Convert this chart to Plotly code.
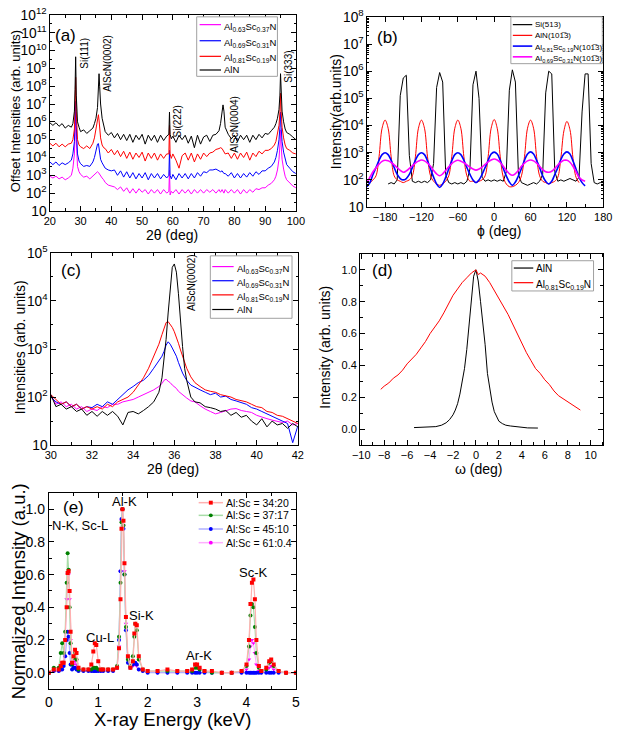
import plotly.graph_objects as go

W, H = 622, 737
FONT = "Liberation Sans, Arial, sans-serif"

# ---------------- (a) 2theta-omega scans, offset, log10 of intensity ----------------
A_TTH = [20, 21, 22, 23, 24, 25, 26, 27, 27.5, 28, 28.2, 28.4, 28.6, 28.8, 29, 29.5,
         30, 31, 32, 33, 34,
         34.5, 35, 35.5, 35.8, 36, 36.2, 36.5, 37, 37.5,
         38, 39, 40, 41, 42, 43, 44, 45, 46, 47, 48, 49, 50, 51, 52, 53, 54, 55, 56, 57, 58,
         58.7, 58.9, 59.1, 59.5,
         60, 61, 62, 63, 64, 65, 66, 67, 68, 69, 70, 71, 72, 73, 74, 75,
         75.5, 76, 76.3, 76.6, 77,
         78, 79, 80, 81, 82, 83, 84, 85, 86, 87, 88, 89, 90, 91, 92, 93,
         93.5, 94, 94.5, 94.8, 95, 95.2, 95.5, 96, 96.5, 97,
         98, 99, 100]
A_ALN_LOG = [5.95, 5.8, 5.95, 5.75, 5.9, 5.65, 5.8, 5.7, 5.9, 6.6, 7.8, 9.65, 7.5, 6.4, 6.0, 5.7,
             5.45, 5.55, 5.35, 5.5, 5.65,
             5.9, 6.2, 6.8, 7.8, 8.7, 8.0, 7.0, 6.2, 5.8,
             5.45, 5.25, 5.4, 5.1, 5.35, 5.0, 5.3, 4.95, 5.3, 4.85, 5.25, 5.0, 5.3, 4.75, 5.25, 4.95, 5.25, 4.85, 5.25, 4.95, 5.2,
             5.3, 6.55, 5.3, 5.05,
             5.2, 4.85, 5.25, 5.0, 5.25, 4.8, 5.2, 4.55, 5.25, 4.75, 5.15, 5.25, 4.9, 5.25, 5.3, 5.5,
             5.9, 6.8, 6.95, 6.6, 5.7,
             5.3, 5.05, 5.25, 4.9, 5.25, 5.0, 5.25, 4.85, 5.25, 5.0, 5.3, 5.1, 5.35, 5.3, 5.5, 5.7,
             5.9, 6.2, 6.7, 7.5, 8.7, 7.5, 6.6, 6.0, 5.6, 5.4,
             5.3, 5.15, 5.0]
A_SC19_LOG = [4.8, 4.65, 4.8, 4.6, 4.75, 4.6, 4.75, 4.8, 5.0, 5.6, 6.8, 8.5, 6.6, 5.5, 5.0, 4.7,
              4.6, 4.5, 4.65, 4.5, 4.8,
              5.1, 5.6, 6.3, 6.4, 6.1, 5.6, 5.1, 4.7, 4.55,
              4.5, 4.25, 4.45, 4.15, 4.4, 4.05, 4.35, 3.95, 4.3, 3.9, 4.25, 4.0, 4.3, 3.8, 4.25, 3.95, 4.25, 3.85, 4.2, 3.95, 4.2,
              4.2, 5.8, 4.2, 3.95,
              4.2, 3.85, 3.4, 4.1, 4.25, 3.85, 4.25, 3.75, 4.2, 3.9, 4.25, 4.05, 4.25, 4.3, 4.45, 4.5,
              4.55, 4.5, 4.4, 4.3, 4.2,
              4.25, 3.95, 4.25, 3.9, 4.25, 4.0, 4.3, 3.85, 4.25, 4.05, 4.35, 4.2, 4.4, 4.4, 4.5, 4.7,
              4.9, 5.3, 5.8, 6.5, 7.6, 6.6, 5.7, 5.1, 4.7, 4.5,
              4.4, 4.25, 4.2]
A_SC31_LOG = [3.75, 3.6, 3.75, 3.55, 3.7, 3.6, 3.7, 3.85, 4.2, 4.9, 6.0, 7.15, 5.8, 4.8, 4.2, 3.8,
              3.65, 3.5, 3.55, 3.5, 3.75,
              4.0, 4.4, 4.75, 4.78, 4.5, 4.2, 3.9, 3.7, 3.55,
              3.4, 3.3, 3.25, 3.3, 3.0, 3.25, 2.9, 3.2, 2.85, 3.15, 2.8, 3.1, 2.85, 3.15, 2.75, 3.1, 2.85, 3.1, 2.8, 3.05, 2.85,
              3.0, 4.4, 3.0, 2.8,
              3.05, 2.75, 3.1, 2.85, 3.1, 2.8, 3.1, 2.85, 3.15, 2.95, 3.2, 3.15, 3.3, 3.3, 3.35, 3.25,
              3.2, 3.25, 3.15, 3.1, 3.1,
              2.95, 3.15, 2.85, 3.1, 2.85, 3.1, 2.9, 3.15, 2.95, 3.2, 3.05, 3.25, 3.25, 3.4, 3.5, 3.75,
              4.0, 4.4, 5.0, 5.7, 6.55, 5.7, 4.9, 4.3, 3.9, 3.6,
              3.4, 3.2, 3.1]
A_SC37_LOG = [2.95, 2.85, 2.95, 2.8, 2.9, 2.75, 2.85, 3.0, 3.4, 4.2, 5.2, 6.55, 5.0, 4.0, 3.5, 3.2,
              3.05, 2.9, 2.95, 2.8, 2.95,
              3.05, 3.15, 3.2, 3.16, 3.1, 3.05, 2.95, 2.85, 2.75,
              2.6, 2.45, 2.4, 2.35, 2.2, 2.35, 2.1, 2.3, 2.0, 2.25, 2.0, 2.25, 2.05, 2.2, 1.95, 2.2, 2.0, 2.2, 1.95, 2.2, 2.0,
              2.1, 3.3, 1.9, 2.1,
              2.0, 2.2, 1.95, 2.2, 2.0, 2.2, 1.95, 2.2, 2.0, 2.2, 2.0, 2.2, 2.05, 2.2, 2.0, 2.2,
              2.05, 2.2, 2.05, 2.0, 2.2,
              2.0, 2.2, 2.0, 2.2, 1.95, 2.2, 2.0, 2.2, 2.05, 2.25, 2.2, 2.3, 2.3, 2.45, 2.55, 2.75,
              2.95, 3.3, 3.9, 4.7, 5.55, 4.7, 3.9, 3.35, 2.95, 2.75,
              2.55, 2.4, 2.3]

# ---------------- (b) phi scans, log10 of intensity ----------------
B_PHI = [-210, -205, -200, -195, -190, -185, -180, -175, -170, -165, -160, -155, -150, -145, -140,
         -135, -130, -125, -120, -115, -110, -105, -100, -95, -90, -85, -80, -75, -70, -65, -60,
         -55, -50, -45, -40, -35, -30, -25, -20, -15, -10, -5, 0, 5, 10, 15, 20, 25, 30, 35, 40,
         45, 50, 55, 60, 65, 70, 75, 80, 85, 90, 95, 100, 105, 110, 115, 120, 125, 130, 135, 140,
         145, 150, 155, 160, 165, 170, 175, 180]
B_SI_LOG = [None, None, None, None, None, None, None,
            1.85, 1.9, 1.85, 2.0, 5.1, 5.75, 5.85, 2.9,
            1.95, 1.9, 1.95, 1.9, 1.95, 1.9, 2.0, 2.6, 5.4, 5.95, 5.6, 2.2, 1.9, 1.85, 1.9, 1.85,
            1.9, 1.85, 1.95, 2.4, 5.5, 6.0, 5.0, 2.1, 1.95, 2.0, 1.95, 2.0, 1.95, 2.0, 1.95, 2.3, 5.3, 6.05, 5.6, 2.2,
            1.9, 1.85, 1.8, 1.85, 1.9, 1.85, 1.95, 2.2, 5.2, 6.0, 5.9, 2.3, 1.95, 2.0, 1.95, 2.0, 2.05, 2.0, 1.95, 2.1,
            4.5, 5.9, 5.9, 2.6, 1.9, 1.85, 1.9, 1.9]
B_ALN_LOG = [1.95, 1.9, 2.0, 2.15, 2.85, 3.9, 4.2, 3.9, 2.85, 2.15, 2.0, 1.95, 1.9, 1.95, 2.0,
             2.15, 2.85, 3.9, 4.2, 3.9, 2.85, 2.15, 1.95, 1.85, 1.8, 1.85, 1.95, 2.15, 2.85, 3.9, 4.2,
             3.9, 2.85, 2.15, 1.95, 1.95, 1.9, 1.95, 2.0, 2.15, 2.85, 3.9, 4.22, 3.9, 2.85, 2.1, 1.85, 1.75, 1.75, 1.8, 1.9,
             2.15, 2.85, 3.9, 4.2, 3.9, 2.85, 2.15, 1.95, 1.9, 1.85, 1.9, 1.95, 2.1, 2.8, 3.8, 4.15, 3.85, 2.8, 2.1, 1.9,
             None, None, None, None, None, None, None, None]
B_SC19_LOG = [1.75, 1.9, 2.2, 2.45, 2.72, 2.93, 3.0, 2.93, 2.72, 2.45, 2.2, 2.05, 2.0, 2.05, 2.2,
              2.45, 2.72, 2.93, 3.0, 2.93, 2.7, 2.4, 2.1, 1.85, 1.72, 1.85, 2.1, 2.4, 2.7, 2.93, 3.0,
              2.93, 2.72, 2.45, 2.2, 2.0, 1.9, 2.0, 2.2, 2.45, 2.72, 2.95, 3.02, 2.95, 2.72, 2.42, 2.15, 1.92, 1.8, 1.92, 2.15,
              2.42, 2.72, 2.95, 3.03, 2.95, 2.72, 2.45, 2.15, 1.95, 1.85, 1.95, 2.2, 2.45, 2.75, 2.95, 3.03, 2.95, 2.7, 2.4, 2.1,
              1.9, 1.78, None, None, None, None, None, None]
B_SC31_LOG = [1.9, 2.1, 2.3, 2.45, 2.58, 2.68, 2.72, 2.7, 2.64, 2.55, 2.45, 2.35, 2.28, 2.33, 2.42,
              2.52, 2.62, 2.69, 2.73, 2.7, 2.62, 2.5, 2.35, 2.22, 2.15, 2.22, 2.35, 2.48, 2.6, 2.68, 2.72,
              2.69, 2.63, 2.55, 2.47, 2.4, 2.36, 2.4, 2.47, 2.57, 2.66, 2.73, 2.77, 2.73, 2.64, 2.5, 2.35, 2.23, 2.17, 2.23, 2.35,
              2.5, 2.62, 2.7, 2.73, 2.7, 2.62, 2.5, 2.38, 2.3, 2.28, 2.32, 2.42, 2.55, 2.65, 2.72, 2.72, 2.65, 2.5, 2.3, 2.1,
              2.0, 1.95, None, None, None, None, None, None]

# ---------------- (c) AlScN(0002) region, log10 of intensity ----------------
C_TTH = [30, 30.25, 30.5, 30.75, 31, 31.25, 31.5, 31.75, 32, 32.25, 32.5, 32.75, 33, 33.25, 33.5, 33.75,
         34, 34.25, 34.5, 34.75, 35, 35.25,
         35.4, 35.5, 35.6, 35.7, 35.8, 35.9, 36.0, 36.1, 36.2, 36.3, 36.4, 36.5, 36.6, 36.8,
         37, 37.25, 37.5, 37.75, 38, 38.25, 38.5, 38.75, 39, 39.25, 39.5, 39.75, 40, 40.25, 40.5, 40.75,
         41, 41.25, 41.5, 41.75, 42]
C_ALN_LOG = [2.05, 1.8, 1.85, 1.75, 1.8, 1.7, 1.75, 1.62, 1.7, 1.6, 1.7, 1.62, 1.7, 1.6, 1.42, 1.68,
             1.7, 1.65, 1.72, 1.8, 1.9, 2.1,
             2.4, 2.75, 3.2, 3.75, 4.3, 4.7, 4.77, 4.6, 4.15, 3.55, 3.05, 2.6, 2.35, 2.0,
             1.9, 1.88, 1.8, 1.78, 1.75, 1.7, 1.72, 1.62, 1.68, 1.58, 1.62, 1.5, 1.42, 1.55, 1.38, 1.5,
             1.42, 1.45, 1.35, 1.45, 1.38]
C_SC19_LOG = [2.05, 1.95, 1.85, 1.9, 1.8, 1.85, 1.75, 1.8, 1.75, 1.8, 1.75, 1.85, 1.8, 1.9, 1.95, 2.0,
              2.1, 2.25, 2.4, 2.6, 2.85, 3.1,
              3.3, 3.45, 3.55, 3.57, 3.52, 3.45, 3.36, 3.25, 3.12, 2.98, 2.85, 2.72, 2.6, 2.42,
              2.3, 2.22, 2.15, 2.12, 2.1, 2.05, 2.03, 2.0, 1.95, 1.93, 1.9, 1.85, 1.8, 1.78, 1.7, 1.68,
              1.62, 1.6, 1.55, 1.5, 1.45]
C_SC31_LOG = [2.0, 1.9, 1.85, 1.9, 1.8, 1.85, 1.75, 1.8, 1.78, 1.85, 1.8, 1.9, 1.85, 1.95, 2.05, 2.15,
              2.22, 2.3, 2.35, 2.45, 2.6, 2.75,
              2.85, 2.95, 3.08, 3.15, 3.1, 3.02, 2.95, 2.85, 2.72, 2.6, 2.5, 2.42, 2.35, 2.25,
              2.2, 2.15, 2.1, 2.05, 2.08, 2.0, 2.02, 1.95, 1.92, 1.88, 1.85, 1.78, 1.75, 1.7, 1.65, 1.6,
              1.55, 1.5, 1.45, 1.05, 1.4]
C_SC37_LOG = [2.05, 1.85, 1.9, 1.8, 1.85, 1.75, 1.8, 1.7, 1.75, 1.72, 1.8, 1.78, 1.85, 1.85, 1.9, 1.92,
              1.95, 2.0, 2.05, 2.1, 2.15, 2.22,
              2.28, 2.35, 2.37, 2.33, 2.3, 2.25, 2.22, 2.18, 2.12, 2.08, 2.05, 2.02, 1.98, 1.92,
              1.9, 1.82, 1.75, 1.7, 1.65, 1.68, 1.72, 1.75, 1.76, 1.72, 1.7, 1.68, 1.62, 1.58, 1.55, 1.52,
              1.5, 1.47, 1.5, 1.42, 1.45]

# ---------------- (d) rocking curves ----------------
D_ALN_W = [-5.4, -4.5, -3.5, -3.0, -2.6, -2.3, -2.0, -1.8, -1.6, -1.4, -1.2, -1.0, -0.8, -0.6, -0.4,
           -0.2, 0.0, 0.2, 0.4, 0.6, 0.8, 1.0, 1.2, 1.4, 1.6, 1.8, 2.0, 2.3, 2.6, 3.0, 3.5, 4.0, 4.5, 5.4]
D_ALN_I = [0.01, 0.012, 0.016, 0.025, 0.04, 0.06, 0.09, 0.12, 0.16, 0.22, 0.3, 0.38, 0.5, 0.66, 0.85,
           0.96, 1.0, 0.93, 0.8, 0.67, 0.53, 0.35, 0.25, 0.17, 0.11, 0.075, 0.05, 0.035, 0.025, 0.02,
           0.015, 0.012, 0.008, 0.007]
D_SC19_W = [-8.3, -8.0, -7.6, -7.2, -6.8, -6.4, -6.0, -5.6, -5.2, -4.8, -4.4, -4.0, -3.6, -3.2, -2.8,
            -2.4, -2.0, -1.6, -1.2, -0.8, -0.4, 0.0, 0.2, 0.4, 0.8, 1.2, 1.6, 2.0, 2.4, 2.8, 3.2, 3.6,
            4.0, 4.4, 4.8, 5.2, 5.6, 6.0, 6.4, 6.8, 7.2, 7.6, 8.0, 8.4, 8.8, 9.1]
D_SC19_I = [0.25, 0.27, 0.29, 0.32, 0.34, 0.37, 0.41, 0.44, 0.47, 0.51, 0.55, 0.6, 0.64, 0.68, 0.73,
            0.79, 0.84, 0.88, 0.92, 0.95, 0.98, 1.0, 0.97, 0.98, 0.96, 0.92, 0.87, 0.82, 0.77, 0.72,
            0.66, 0.6, 0.53, 0.48, 0.43, 0.38, 0.35, 0.31, 0.28, 0.24, 0.21, 0.19, 0.17, 0.155, 0.135, 0.12]

# ---------------- (e) EDX spectra ----------------
E_KEV = [0.0, 0.1, 0.2, 0.24, 0.27, 0.3, 0.33, 0.36, 0.38, 0.40, 0.42, 0.44, 0.47, 0.50, 0.53, 0.56,
         0.6, 0.7, 0.8, 0.86, 0.9, 0.93, 0.96, 1.0, 1.05, 1.1, 1.2, 1.3, 1.38, 1.42, 1.45, 1.47, 1.49,
         1.51, 1.53, 1.56, 1.6, 1.65, 1.7, 1.73, 1.75, 1.78, 1.82, 1.9, 2.0, 2.2, 2.4, 2.6, 2.8, 2.9,
         2.96, 3.0, 3.05, 3.15, 3.3, 3.5, 3.7, 3.9, 4.0, 4.05, 4.08, 4.11, 4.14, 4.17, 4.2, 4.25, 4.3,
         4.4, 4.46, 4.5, 4.55, 4.65, 4.8, 5.0]
E_34_20 = [0.0, 0.02, 0.02, 0.04, 0.06, 0.06, 0.2, 0.4, 0.61, 0.62, 0.5, 0.25, 0.06, 0.1, 0.14, 0.12,
           0.03, 0.02, 0.02, 0.05, 0.13, 0.18, 0.17, 0.07, 0.02, 0.02, 0.02, 0.02, 0.03, 0.15, 0.45, 0.88, 1.0,
           0.93, 0.67, 0.34, 0.1, 0.03, 0.07, 0.24, 0.3, 0.29, 0.1, 0.02, 0.01, 0.01, 0.02, 0.01, 0.01, 0.02,
           0.05, 0.05, 0.03, 0.01, 0.01, 0.0, 0.0, 0.01, 0.05, 0.2, 0.42, 0.55, 0.57, 0.45, 0.2, 0.04, 0.01,
           0.03, 0.07, 0.08, 0.05, 0.01, 0.0, 0.0]
E_37_17 = [0.0, 0.03, 0.03, 0.12, 0.18, 0.12, 0.25, 0.55, 0.73, 0.63, 0.4, 0.18, 0.05, 0.09, 0.12, 0.08,
           0.02, 0.02, 0.02, 0.02, 0.03, 0.03, 0.03, 0.02, 0.02, 0.02, 0.02, 0.02, 0.04, 0.22, 0.55, 0.92, 1.0,
           0.9, 0.6, 0.28, 0.08, 0.04, 0.1, 0.22, 0.3, 0.26, 0.08, 0.02, 0.01, 0.01, 0.01, 0.01, 0.01, 0.01,
           0.03, 0.03, 0.02, 0.01, 0.0, 0.0, 0.0, 0.01, 0.04, 0.16, 0.35, 0.42, 0.4, 0.28, 0.12, 0.03, 0.01,
           0.02, 0.06, 0.07, 0.04, 0.01, 0.0, 0.0]
E_45_10 = [0.0, 0.01, 0.01, 0.02, 0.02, 0.04, 0.1, 0.2, 0.25, 0.22, 0.12, 0.05, 0.02, 0.03, 0.03, 0.02,
           0.01, 0.01, 0.01, 0.01, 0.01, 0.01, 0.01, 0.01, 0.01, 0.01, 0.01, 0.01, 0.03, 0.2, 0.62, 0.94, 1.0,
           0.88, 0.6, 0.26, 0.06, 0.03, 0.05, 0.06, 0.06, 0.05, 0.02, 0.01, 0.0, 0.0, 0.0, 0.0, 0.0, 0.0,
           0.0, 0.0, 0.0, 0.0, 0.0, 0.0, 0.0, 0.0, 0.0, 0.0, 0.0, 0.0, 0.0, 0.0, 0.0, 0.0, 0.0,
           0.0, 0.0, 0.0, 0.0, 0.0, 0.0, 0.0]
E_61_04 = [0.0, 0.01, 0.01, 0.03, 0.06, 0.06, 0.2, 0.45, 0.6, 0.6, 0.45, 0.2, 0.04, 0.05, 0.07, 0.05,
           0.01, 0.01, 0.01, 0.01, 0.01, 0.01, 0.01, 0.01, 0.01, 0.01, 0.01, 0.01, 0.03, 0.16, 0.62, 0.93, 1.0,
           0.9, 0.62, 0.3, 0.08, 0.03, 0.04, 0.05, 0.05, 0.04, 0.02, 0.01, 0.01, 0.0, 0.0, 0.0, 0.01, 0.02,
           0.05, 0.05, 0.03, 0.01, 0.0, 0.0, 0.0, 0.0, 0.02, 0.08, 0.16, 0.2, 0.18, 0.12, 0.05, 0.01, 0.0,
           0.01, 0.03, 0.04, 0.02, 0.01, 0.0, 0.0]

NAME_37 = "Al<sub>0.63</sub>Sc<sub>0.37</sub>N"
NAME_31 = "Al<sub>0.69</sub>Sc<sub>0.31</sub>N"
NAME_19 = "Al<sub>0.81</sub>Sc<sub>0.19</sub>N"
OVER1 = "1\u0305"
NAME_B = ["Si(513)", "AlN(10" + OVER1 + "3)", NAME_19 + "(10" + OVER1 + "3)",
          "Al<sub>0.69</sub>Sc<sub>0.31</sub>N(10" + OVER1 + "3)"]
NAME_E = ["Al:Sc = 34:20", "Al:Sc = 37:17", "Al:Sc = 45:10", "Al:Sc = 61:0.4"]

RED, BLUE, MAG, BLK, GRN = "#FF0000", "#0000FF", "#FF00FF", "#000000", "#008000"


def pw(v):
    return [None if t is None else 10 ** t for t in v]


def ax_id(n, kind):
    return kind if n == 1 else f"{kind}{n}"


fig = go.Figure()


def line(x, y, name, color, n, width=1.0, shape="linear"):
    fig.add_trace(go.Scatter(x=x, y=y, name=name, mode="lines", showlegend=False,
                             line=dict(color=color, width=width, shape=shape),
                             xaxis=ax_id(n, "x"), yaxis=ax_id(n, "y")))


# (a)
line(A_TTH, pw(A_SC37_LOG), NAME_37, MAG, 1)
line(A_TTH, pw(A_SC31_LOG), NAME_31, BLUE, 1)
line(A_TTH, pw(A_SC19_LOG), NAME_19, RED, 1)
line(A_TTH, pw(A_ALN_LOG), "AlN", BLK, 1)
# (b)
line(B_PHI, pw(B_SI_LOG), NAME_B[0], BLK, 2)
line(B_PHI, pw(B_ALN_LOG), NAME_B[1], RED, 2, shape="spline")
line(B_PHI, pw(B_SC19_LOG), NAME_B[2], BLUE, 2, width=1.6, shape="spline")
line(B_PHI, pw(B_SC31_LOG), NAME_B[3], MAG, 2, width=1.6, shape="spline")
# (c)
line(C_TTH, pw(C_SC37_LOG), NAME_37, MAG, 3)
line(C_TTH, pw(C_SC31_LOG), NAME_31, BLUE, 3)
line(C_TTH, pw(C_SC19_LOG), NAME_19, RED, 3)
line(C_TTH, pw(C_ALN_LOG), "AlN", BLK, 3)
# (d)
line(D_ALN_W, D_ALN_I, "AlN", BLK, 4)
line(D_SC19_W, D_SC19_I, NAME_19, RED, 4)

# (e)
E_STYLE = [(E_34_20, NAME_E[0], RED, "#FFB0B0", "square"),
           (E_37_17, NAME_E[1], GRN, "#A8DDA8", "circle"),
           (E_45_10, NAME_E[2], BLUE, "#B0B0FF", "circle"),
           (E_61_04, NAME_E[3], MAG, "#FFB0FF", "triangle-down")]
for e_vals, name, mcol, lcol, sym in reversed(E_STYLE):
    fig.add_trace(go.Scatter(x=E_KEV, y=e_vals, name=name, mode="lines+markers", showlegend=False,
                             line=dict(color=lcol, width=1.2),
                             marker=dict(color=mcol, size=4, symbol=sym),
                             xaxis="x5", yaxis="y5"))


def dom_x(a, b):
    return [a / W, b / W]


def dom_y(top, bottom):
    return [1 - bottom / H, 1 - top / H]


def axis(dom, anchor, tsize=11, **kw):
    d = dict(domain=dom, anchor=anchor, showline=True, linecolor="black", linewidth=1,
             mirror="ticks", ticks="inside", ticklen=5, tickwidth=1, tickcolor="black",
             showgrid=False, zeroline=False,
             tickfont=dict(family=FONT, size=tsize, color="black"))
    d.update(kw)
    return d


def minor(dt, n=3):
    return dict(ticks="inside", ticklen=n, tickcolor="black", showgrid=False, dtick=dt)


layout = dict(
    width=W, height=H, margin=dict(l=0, r=0, t=0, b=0),
    paper_bgcolor="white", plot_bgcolor="white", hovermode=False,
    font=dict(family=FONT, color="black"),
    showlegend=False,
    xaxis=axis(dom_x(43, 296), "y", range=[20, 100], dtick=10, minor=minor(5)),
    yaxis=axis(dom_y(5, 206), "x", type="log", range=[1, 12], dtick=1, exponentformat="power",
               minor=minor(0.5, 2)),
    xaxis2=axis(dom_x(369, 612), "y2", range=[-210, 180], tick0=-180, dtick=60, minor=minor(30)),
    yaxis2=axis(dom_y(7, 202), "x2", type="log", range=[1, 8], dtick=1, exponentformat="power",
                minor=minor("D1", 2)),
    xaxis3=axis(dom_x(44, 298), "y3", range=[30, 42], dtick=2, minor=minor(1)),
    yaxis3=axis(dom_y(249, 446), "x3", type="log", range=[1, 5], dtick=1, exponentformat="power",
                minor=minor(0.5, 2)),
    xaxis4=axis(dom_x(362, 612), "y4", range=[-10.1, 11.1], dtick=2, tick0=0, minor=minor(1)),
    yaxis4=axis(dom_y(250, 446), "x4", range=[-0.1, 1.1], dtick=0.2, tick0=0, tickformat=".1f",
                minor=minor(0.1)),
    xaxis5=axis(dom_x(42, 296), "y5", tsize=14, range=[0, 5], dtick=1, minor=minor(0.5)),
    yaxis5=axis(dom_y(495, 696), "x5", tsize=14, range=[-0.1, 1.1], dtick=0.2, tick0=0,
                tickformat=".1f", minor=minor(0.1)),
)

ann = []
shapes = []


def px(xp):
    return xp / W


def py(yp):
    return 1 - yp / H


def note(text, x, y, size, xref="paper", yref="paper", angle=0, anchor="center"):
    ann.append(dict(text=text, x=x, y=y, xref=xref, yref=yref, showarrow=False,
                    textangle=angle, xanchor=anchor, yanchor="middle",
                    font=dict(family=FONT, size=size, color="black")))


# ----- hand-placed legends (box, sample line, label), positions in page pixels -----
def legend_box(x0, y0, x1, y1):
    shapes.append(dict(type="rect", xref="paper", yref="paper", x0=px(x0), x1=px(x1),
                       y0=py(y1), y1=py(y0), line=dict(color="#a0a0a0", width=1),
                       fillcolor="white", layer="above"))


def legend_row(x0, x1, y, text, color, size, lw=1.2, sub=True, marker=None):
    shapes.append(dict(type="line", xref="paper", yref="paper", x0=px(x0), x1=px(x1),
                       y0=py(y), y1=py(y), line=dict(color=color, width=lw), layer="above"))
    if marker:
        mx = (x0 + x1) / 2
        shapes.append(dict(type=marker[0], xref="paper", yref="paper",
                           x0=px(mx - 2), x1=px(mx + 2), y0=py(y + 2), y1=py(y - 2),
                           line=dict(color=marker[1], width=0), fillcolor=marker[1], layer="above"))
    note(text, px(x1 + 1), py(y + (2 if sub else 0)), size, anchor="left")


# (a)
legend_box(194, 7, 277, 68)
for (txt, col, y, sub) in [(NAME_37, MAG, 15, True), (NAME_31, BLUE, 31.5, True),
                           (NAME_19, RED, 47.5, True), ("AlN", BLK, 61.5, False)]:
    legend_row(197, 219, y, txt, col, 9.5, sub=sub)
# (b)
legend_box(517, 7, 611, 55)
for (txt, col, y, sub, lw) in [(NAME_B[0], BLK, 15, False, 1.2), (NAME_B[1], RED, 26, False, 1.2),
                               (NAME_B[2], BLUE, 37, True, 1.6), (NAME_B[3], MAG, 48, True, 1.6)]:
    legend_row(519, 539, y, txt, col, 8, lw=lw, sub=sub)
# (c)
legend_box(208, 252, 292, 316)
for (txt, col, y, sub) in [(NAME_37, MAG, 263, True), (NAME_31, BLUE, 277.5, True),
                           (NAME_19, RED, 292, True), ("AlN", BLK, 307, False)]:
    legend_row(210, 232, y, txt, col, 9.5, sub=sub)
# (d)
legend_box(518, 257, 602, 288)
for (txt, col, y, sub) in [("AlN", BLK, 264.5, False), (NAME_19, RED, 279.5, True)]:
    legend_row(520, 540, y, txt, col, 10, sub=sub)
# (e)
for (vals, txt, mcol, lcol, sym), y in zip(E_STYLE, [505, 518, 532, 546]):
    legend_row(196, 221, y, txt, lcol, 10.5, lw=1.5, sub=False,
               marker=("rect" if sym == "square" else "circle", mcol))

# axis titles
for text, (xp, yp), size, angle in [
        ("Offset Intensities (arb. units)", (8, 104), 13, -90),
        ("2θ (deg)", (169, 231), 14, 0),
        ("Intensity(arb.units)", (338, 104), 14, -90),
        ("ϕ (deg)", (505, 227), 14, 0),
        ("Intensities (arb. units)", (12, 346), 14, -90),
        ("2θ (deg)", (170, 470), 14, 0),
        ("Intensity (arb. units)", (325, 346), 14, -90),
        ("ω (deg)", (484, 470), 14, 0),
        ("Normalized Intensity (a.u.)", (11, 596), 18.5, -90),
        ("X-ray Energy (keV)", (169, 727), 18.5, 0)]:
    note(text, px(xp), py(yp), size, angle=angle)

# panel labels and peak labels (axis-domain coordinates)
for text, n, dx, dy, size, angle in [
        ("(a)", 1, 0.063, 0.895, 17, 0),
        ("Si(111)", 1, 0.142, 0.806, 10, -90),
        ("AlScN(0002)", 1, 0.237, 0.751, 10, -90),
        ("Si(222)", 1, 0.518, 0.458, 10, -90),
        ("AlScN(0004)", 1, 0.747, 0.443, 10, -90),
        ("Si(333)", 1, 0.972, 0.736, 10, -90),
        ("(b)", 2, 0.086, 0.89, 17, 0),
        ("(c)", 3, 0.083, 0.906, 17, 0),
        ("AlScN(0002)", 3, 0.567, 0.848, 10, -90),
        ("(d)", 4, 0.092, 0.915, 17, 0),
        ("(e)", 5, 0.098, 0.925, 17, 0),
        ("N-K, Sc-L", 5, 0.128, 0.836, 13, 0),
        ("Al-K", 5, 0.307, 0.955, 13, 0),
        ("Si-K", 5, 0.374, 0.373, 13, 0),
        ("Cu-L", 5, 0.207, 0.264, 13, 0),
        ("Ar-K", 5, 0.606, 0.169, 13, 0),
        ("Sc-K", 5, 0.827, 0.592, 13, 0)]:
    note(text, dx, dy, size, xref=ax_id(n, "x") + " domain", yref=ax_id(n, "y") + " domain", angle=angle)

layout["annotations"] = ann
layout["shapes"] = shapes
fig.update_layout(**layout)
fig.write_html("out.html")
